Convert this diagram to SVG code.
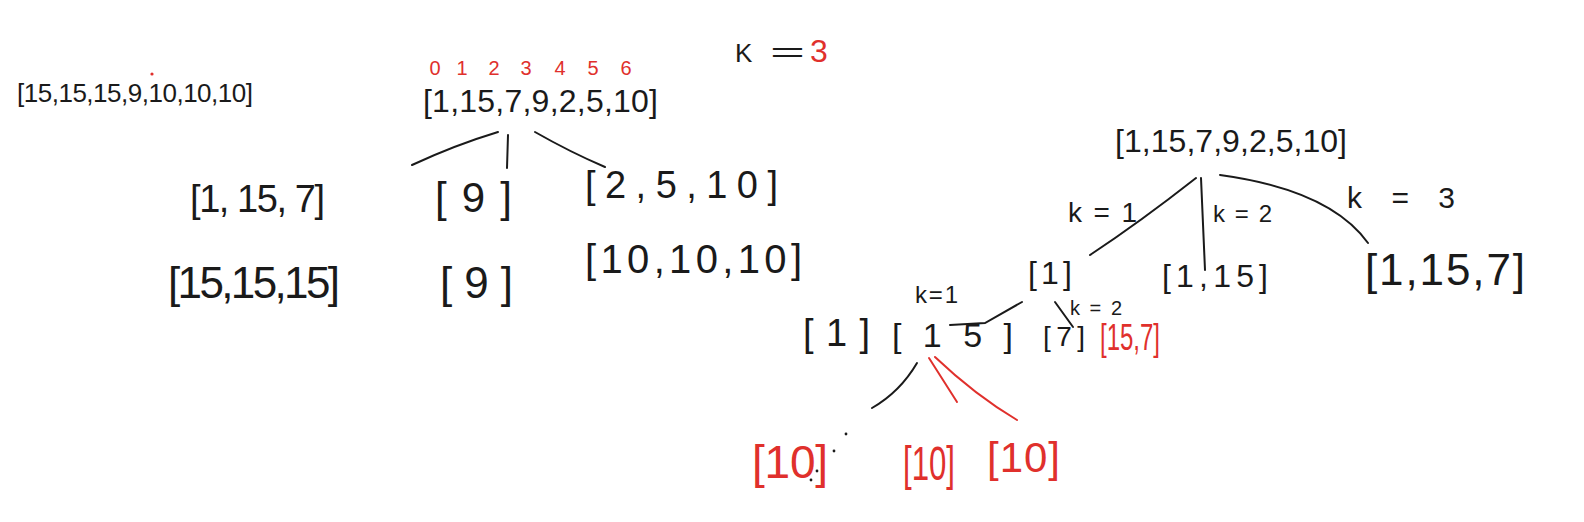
<svg xmlns="http://www.w3.org/2000/svg" width="1584" height="522" viewBox="0 0 1584 522">
<style>
text{font-family:"Liberation Sans","DejaVu Sans",sans-serif;fill:#1a1a1a}
.r{fill:#e0302c}
.ln{fill:none;stroke:#1a1a1a;stroke-width:2;stroke-linecap:round}
.lr{fill:none;stroke:#e0302c;stroke-width:2;stroke-linecap:round}
.dot{fill:#1a1a1a}
</style>
<rect width="1584" height="522" fill="#ffffff"/>

<g id="connectors">
  <path class="ln" d="M412,165 Q455,145 498,132"/>
  <path class="ln" d="M508,135 L507,168"/>
  <path class="ln" d="M535,132 Q570,152 605,167"/>
  <path class="ln" d="M1196,178 Q1140,222 1090,255"/>
  <path class="ln" d="M1201,178 L1205,270"/>
  <path class="ln" d="M1220,175 Q1330,190 1368,243"/>
  <path class="ln" d="M1022,302 L985,323 L950,325"/>
  <path class="ln" d="M1055,302 L1073,327"/>
  <path class="ln" d="M917,363 Q900,392 872,408"/>
  <path class="lr" d="M929,358 L957,402"/>
  <path class="lr" d="M935,357 Q975,395 1017,420"/>
</g>

<g id="summary">
  <text x="17" y="102" font-size="26" textLength="236" lengthAdjust="spacing">[15,15,15,9,10,10,10]</text>
  <circle cx="152" cy="74" r="1.6" fill="#e0302c"/>
</g>

<g id="indices">
  <text class="r" x="435" y="75" font-size="20" text-anchor="middle">0</text>
  <text class="r" x="462" y="75" font-size="20" text-anchor="middle">1</text>
  <text class="r" x="494" y="75" font-size="20" text-anchor="middle">2</text>
  <text class="r" x="526" y="75" font-size="20" text-anchor="middle">3</text>
  <text class="r" x="560" y="75" font-size="20" text-anchor="middle">4</text>
  <text class="r" x="593" y="75" font-size="20" text-anchor="middle">5</text>
  <text class="r" x="626" y="75" font-size="20" text-anchor="middle">6</text>
</g>

<g id="k-main">
  <text x="735" y="62" font-size="26">K</text>
  <text x="770" y="62" font-size="28" textLength="35" lengthAdjust="spacingAndGlyphs">=</text>
  <text class="r" x="810" y="62" font-size="32">3</text>
</g>

<g id="root-left">
  <text x="423" y="112" font-size="32" textLength="235" lengthAdjust="spacing">[1,15,7,9,2,5,10]</text>
</g>

<g id="left-a"><text x="190" y="212" font-size="38" textLength="135" lengthAdjust="spacing">[1, 15, 7]</text></g>
<g id="left-b"><text x="435" y="212" font-size="42" textLength="77" lengthAdjust="spacing">[9]</text></g>
<g id="left-c"><text x="585" y="198" font-size="38" textLength="193" lengthAdjust="spacing">[2,5,10]</text></g>
<g id="left-a2"><text x="168" y="298" font-size="44" textLength="172" lengthAdjust="spacing">[15,15,15]</text></g>
<g id="left-b2"><text x="440" y="298" font-size="44" textLength="73" lengthAdjust="spacing">[9]</text></g>
<g id="left-c2"><text x="585" y="273" font-size="40" textLength="217" lengthAdjust="spacing">[10,10,10]</text></g>

<g id="root-right">
  <text x="1115" y="152" font-size="32" textLength="232" lengthAdjust="spacing">[1,15,7,9,2,5,10]</text>
</g>
<g id="label-k1"><text x="1068" y="222" font-size="28" textLength="69" lengthAdjust="spacing">k = 1</text></g>
<g id="label-k2"><text x="1213" y="222" font-size="24" textLength="59" lengthAdjust="spacing">k=2</text></g>
<g id="label-k3"><text x="1347" y="208" font-size="30" textLength="108" lengthAdjust="spacing">k = 3</text></g>

<g id="right-a"><text x="1028" y="284" font-size="32" textLength="44" lengthAdjust="spacing">[1]</text></g>
<g id="right-b"><text x="1162" y="287" font-size="32" textLength="106" lengthAdjust="spacing">[1,15]</text></g>
<g id="right-c"><text x="1365" y="285" font-size="44" textLength="160" lengthAdjust="spacing">[1,15,7]</text></g>

<g id="sub-a"><text x="803" y="346" font-size="38" textLength="67" lengthAdjust="spacing">[1]</text></g>
<g id="sub-b"><text x="892" y="347" font-size="34" textLength="121" lengthAdjust="spacing">[15]</text></g>
<g id="sub-c"><text x="1043" y="346" font-size="28" textLength="42" lengthAdjust="spacing">[7]</text></g>
<g id="sub-d"><text class="r" x="1100" y="350" font-size="36" textLength="60" lengthAdjust="spacingAndGlyphs">[15,7]</text></g>
<g id="label-sub-k1"><text x="915" y="303" font-size="24" textLength="43" lengthAdjust="spacing">k=1</text></g>
<g id="label-sub-k2"><text x="1070" y="315" font-size="20" textLength="52" lengthAdjust="spacing">k=2</text></g>

<g id="leaf-a">
  <text class="r" x="752" y="478" font-size="46" textLength="76" lengthAdjust="spacing">[10]</text>
  <circle class="dot" cx="846" cy="434" r="1.4"/>
  <circle class="dot" cx="834" cy="451" r="1.4"/>
  <circle class="dot" cx="817" cy="471" r="1.4"/>
  <circle class="dot" cx="811" cy="480" r="1.4"/>
</g>
<g id="leaf-b"><text class="r" x="903" y="480" font-size="48" textLength="52" lengthAdjust="spacingAndGlyphs">[10]</text></g>
<g id="leaf-c"><text class="r" x="987" y="472" font-size="42" textLength="73" lengthAdjust="spacing">[10]</text></g>
</svg>
